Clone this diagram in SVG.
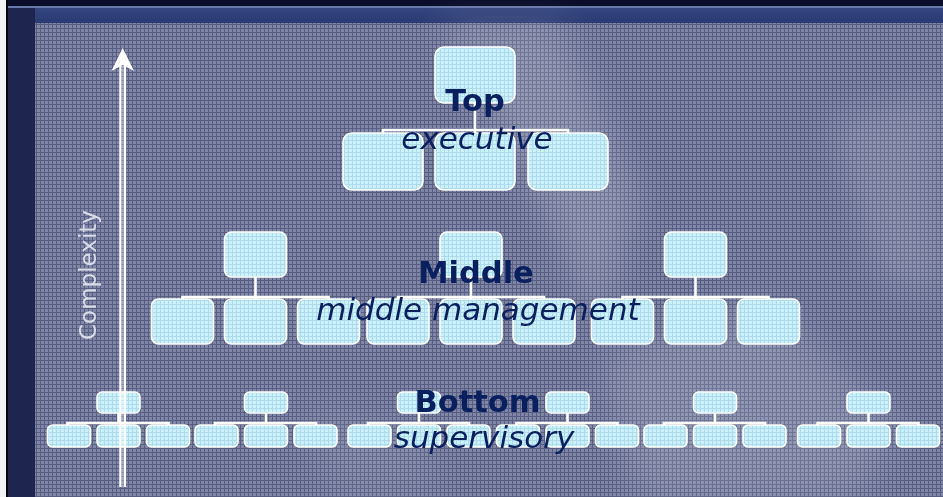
<svg xmlns="http://www.w3.org/2000/svg" width="943" height="497" viewBox="0 0 943 497">
  <defs>
    <!-- fine woven texture of the slide panel -->
    <pattern id="weave" width="4" height="4" patternUnits="userSpaceOnUse">
      <rect width="4" height="4" fill="#7f86a6"/>
      <rect width="4" height="1" fill="#575e82"/>
      <rect width="1" height="4" fill="#575e82"/>
    </pattern>
    <!-- same texture, light cyan, for the org boxes -->
    <pattern id="boxWeave" width="4" height="4" patternUnits="userSpaceOnUse">
      <rect width="4" height="4" fill="#cbf1fc"/>
      <rect width="4" height="1" fill="#afdaec"/>
      <rect width="1" height="4" fill="#afdaec"/>
    </pattern>
    <linearGradient id="header" x1="0" y1="0" x2="0" y2="1">
      <stop offset="0" stop-color="#34467f"/>
      <stop offset="1" stop-color="#2a3a72"/>
    </linearGradient>
    <filter id="soft" x="-50%" y="-50%" width="200%" height="200%">
      <feGaussianBlur stdDeviation="18"/>
    </filter>
    <style>
      .box { fill: url(#boxWeave); stroke: #ffffff; stroke-width: 1.6; }
      .link { fill: none; stroke: #ffffff; stroke-width: 2.6; stroke-linecap: butt; }
      .lvl { font-family: "DejaVu Sans", Verdana, sans-serif; font-weight: bold; font-size: 30.5px; fill: #0a1f5e; text-anchor: middle; }
      .sub { font-family: "DejaVu Sans", Verdana, sans-serif; font-style: italic; font-size: 31px; fill: #0a1f5e; text-anchor: middle; }
      .axis { font-family: "DejaVu Sans", Verdana, sans-serif; font-size: 23px; fill: #d9dce8; text-anchor: middle; }
      .rail { fill: none; stroke: #ffffff; stroke-width: 2; }
    </style>
  </defs>

  <!-- slide frame -->
  <rect width="943" height="497" fill="#1e2446"/>
  <rect x="0" y="0" width="6" height="497" fill="#f2f2f4"/>
  <rect x="6" y="0" width="2" height="497" fill="#05050c"/>
  <rect x="8" y="0" width="935" height="6" fill="#0a0e2a"/>
  <rect x="8" y="6" width="935" height="2" fill="#6a79ac"/>
  <rect x="8" y="8" width="935" height="15" fill="url(#header)"/>
  <rect x="8" y="8" width="27" height="489" fill="#1e254e"/>

  <!-- textured panel -->
  <rect x="35" y="23" width="908" height="474" fill="url(#weave)"/>
  <!-- soft light streaks in the panel -->
  <g filter="url(#soft)" fill="#ffffff">
    <path d="M440,23 L560,23 L640,200 L600,330 L540,200 Z" opacity="0.16"/>
    <path d="M600,360 L760,300 L900,420 L860,497 L640,497 Z" opacity="0.14"/>
    <path d="M830,120 L943,90 L943,300 L880,280 Z" opacity="0.12"/>
    <path d="M300,400 L420,430 L440,497 L330,497 Z" opacity="0.08"/>
  </g>

  <!-- connectors -->
  <g id="connectors">
    <path class="link" d="M475,103 V130 M383,133 V130 H568 V133 M475,130 V133"/>
    <path class="link" d="M255.5,277 V297 M182.5,299 V297 H328.5 V299 M255.5,297 V299"/>
    <path class="link" d="M471,277 V297 M398,299 V297 H544 V299 M471,297 V299"/>
    <path class="link" d="M695.5,277 V297 M622.5,299 V297 H768.5 V299 M695.5,297 V299"/>
    <path class="link" d="M118.5,413 V423 M67.5,425 V423 H168.5 V425"/>
    <path class="link" d="M266,413 V423 M215,425 V423 H316 V425"/>
    <path class="link" d="M419,413 V423 M368,425 V423 H469 V425"/>
    <path class="link" d="M567.5,413 V423 M516.5,425 V423 H617.5 V425"/>
    <path class="link" d="M715,413 V423 M664,425 V423 H765 V425"/>
    <path class="link" d="M868.5,413 V423 M817.5,425 V423 H918.5 V425"/>
  </g>

  <!-- top level -->
  <g id="top-head"><rect class="box" x="435" y="47" width="80" height="56" rx="9"/></g>
  <g id="top-a"><rect class="box" x="343" y="133" width="80" height="57" rx="9"/></g>
  <g id="top-b"><rect class="box" x="435" y="133" width="80" height="57" rx="9"/></g>
  <g id="top-c"><rect class="box" x="528" y="133" width="80" height="57" rx="9"/></g>

  <!-- middle level -->
  <g id="mid-1-head"><rect class="box" x="224.5" y="232" width="62" height="45" rx="7"/></g>
  <g id="mid-1-a"><rect class="box" x="151.5" y="299" width="62" height="45" rx="7"/></g>
  <g id="mid-1-b"><rect class="box" x="224.5" y="299" width="62" height="45" rx="7"/></g>
  <g id="mid-1-c"><rect class="box" x="297.5" y="299" width="62" height="45" rx="7"/></g>
  <g id="mid-2-head"><rect class="box" x="440" y="232" width="62" height="45" rx="7"/></g>
  <g id="mid-2-a"><rect class="box" x="367" y="299" width="62" height="45" rx="7"/></g>
  <g id="mid-2-b"><rect class="box" x="440" y="299" width="62" height="45" rx="7"/></g>
  <g id="mid-2-c"><rect class="box" x="513" y="299" width="62" height="45" rx="7"/></g>
  <g id="mid-3-head"><rect class="box" x="664.5" y="232" width="62" height="45" rx="7"/></g>
  <g id="mid-3-a"><rect class="box" x="591.5" y="299" width="62" height="45" rx="7"/></g>
  <g id="mid-3-b"><rect class="box" x="664.5" y="299" width="62" height="45" rx="7"/></g>
  <g id="mid-3-c"><rect class="box" x="737.5" y="299" width="62" height="45" rx="7"/></g>

  <!-- bottom level -->
  <g id="bot-1-head"><rect class="box" x="97" y="392" width="43" height="21" rx="5"/></g>
  <g id="bot-1-a"><rect class="box" x="47.5" y="425" width="43" height="22" rx="5"/></g>
  <g id="bot-1-b"><rect class="box" x="97" y="425" width="43" height="22" rx="5"/></g>
  <g id="bot-1-c"><rect class="box" x="146.5" y="425" width="43" height="22" rx="5"/></g>
  <g id="bot-2-head"><rect class="box" x="244.5" y="392" width="43" height="21" rx="5"/></g>
  <g id="bot-2-a"><rect class="box" x="195" y="425" width="43" height="22" rx="5"/></g>
  <g id="bot-2-b"><rect class="box" x="244.5" y="425" width="43" height="22" rx="5"/></g>
  <g id="bot-2-c"><rect class="box" x="294" y="425" width="43" height="22" rx="5"/></g>
  <g id="bot-3-head"><rect class="box" x="397.5" y="392" width="43" height="21" rx="5"/></g>
  <g id="bot-3-a"><rect class="box" x="348" y="425" width="43" height="22" rx="5"/></g>
  <g id="bot-3-b"><rect class="box" x="397.5" y="425" width="43" height="22" rx="5"/></g>
  <g id="bot-3-c"><rect class="box" x="447" y="425" width="43" height="22" rx="5"/></g>
  <g id="bot-4-head"><rect class="box" x="546" y="392" width="43" height="21" rx="5"/></g>
  <g id="bot-4-a"><rect class="box" x="496.5" y="425" width="43" height="22" rx="5"/></g>
  <g id="bot-4-b"><rect class="box" x="546" y="425" width="43" height="22" rx="5"/></g>
  <g id="bot-4-c"><rect class="box" x="595.5" y="425" width="43" height="22" rx="5"/></g>
  <g id="bot-5-head"><rect class="box" x="693.5" y="392" width="43" height="21" rx="5"/></g>
  <g id="bot-5-a"><rect class="box" x="644" y="425" width="43" height="22" rx="5"/></g>
  <g id="bot-5-b"><rect class="box" x="693.5" y="425" width="43" height="22" rx="5"/></g>
  <g id="bot-5-c"><rect class="box" x="743" y="425" width="43" height="22" rx="5"/></g>
  <g id="bot-6-head"><rect class="box" x="847" y="392" width="43" height="21" rx="5"/></g>
  <g id="bot-6-a"><rect class="box" x="797.5" y="425" width="43" height="22" rx="5"/></g>
  <g id="bot-6-b"><rect class="box" x="847" y="425" width="43" height="22" rx="5"/></g>
  <g id="bot-6-c"><rect class="box" x="896.5" y="425" width="43" height="22" rx="5"/></g>

  <!-- complexity axis: double rail with an arrowhead -->
  <g id="axis">
    <rect x="121.3" y="66" width="3" height="421" fill="#ffffff" fill-opacity="0.3"/>
    <path class="rail" d="M120.3,66 V487 M125,66 V487"/>
    <path d="M122.7,48 L134,71 L122.7,65 L111.5,71 Z" fill="#ffffff"/>
    <text class="axis" x="96" y="275" transform="rotate(-90 96 275)">Complexity</text>
  </g>

  <!-- level labels -->
  <g id="labels">
    <text class="lvl" x="475" y="111">Top</text>
    <text class="sub" x="477" y="149">executive</text>
    <text class="lvl" x="476" y="283">Middle</text>
    <text class="sub" x="478" y="320">middle management</text>
    <text class="lvl" x="477.5" y="412">Bottom</text>
    <text class="sub" x="484" y="448">supervisory</text>
  </g>
</svg>
